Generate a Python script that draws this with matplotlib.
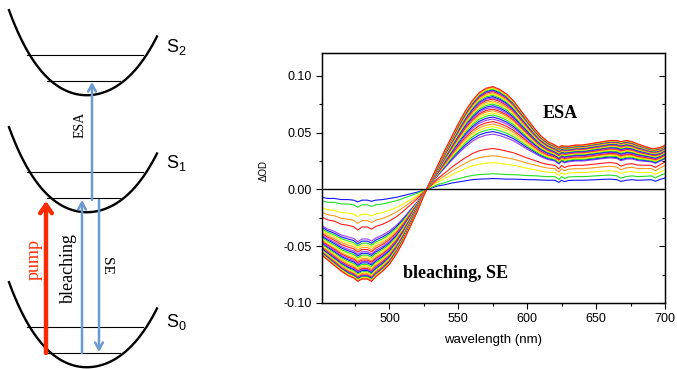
import matplotlib
matplotlib.use('Agg')
import matplotlib.pyplot as plt
import numpy as np
from matplotlib.ticker import MultipleLocator, FormatStrFormatter

plt.rcParams['font.family'] = ['Liberation Sans', 'DejaVu Sans']
plt.rcParams['mathtext.default'] = 'regular'

# ---- transient absorption data ----
wl = [451, 455, 460, 465, 470, 474, 477, 480, 484, 487, 490, 495, 500, 505, 510,
      515, 520, 524, 527, 530, 535, 540, 545, 550, 555, 560, 565, 570, 575, 580,
      585, 590, 595, 600, 605, 610, 615, 620, 623, 625, 627, 630, 635, 640, 645,
      650, 655, 660, 665, 668, 672, 676, 680, 685, 690, 693, 697, 700]

# strongest (latest) spectrum
late = [-0.058, -0.062, -0.067, -0.072, -0.076, -0.078, -0.081, -0.079, -0.079, -0.081,
        -0.077, -0.072, -0.066, -0.057, -0.046, -0.033, -0.020, -0.008, 0.000, 0.008,
        0.021, 0.034, 0.046, 0.058, 0.069, 0.078, 0.085, 0.089, 0.0905, 0.088,
        0.084, 0.078, 0.070, 0.062, 0.054, 0.047, 0.042, 0.039, 0.037, 0.0385,
        0.038, 0.038, 0.039, 0.039, 0.040, 0.041, 0.042, 0.043, 0.043, 0.042,
        0.043, 0.042, 0.040, 0.038, 0.036, 0.036, 0.037, 0.039]

# weakest (earliest) spectrum
early = [-0.007, -0.008, -0.008, -0.009, -0.009, -0.0095, -0.011, -0.0095, -0.0095, -0.0105,
         -0.0095, -0.009, -0.008, -0.007, -0.0055, -0.004, -0.0025, -0.001, 0.000, 0.001,
         0.003, 0.004, 0.0055, 0.0065, 0.0075, 0.0085, 0.009, 0.0092, 0.0095, 0.0093,
         0.009, 0.009, 0.0088, 0.0085, 0.0085, 0.0082, 0.008, 0.008, 0.0062, 0.008,
         0.0068, 0.0078, 0.008, 0.008, 0.0082, 0.0085, 0.0088, 0.009, 0.0085, 0.007,
         0.008, 0.0085, 0.008, 0.0082, 0.0085, 0.0072, 0.009, 0.010]

# weight of late / early spectrum in each trace (weakest -> strongest)
w_late = [0.0, 0.01, 0.137, 0.181, 0.245,
          0.43, 0.46, 0.49, 0.52, 0.55, 0.58, 0.61, 0.635, 0.66, 0.685,
          0.71, 0.73, 0.75, 0.77, 0.79, 0.81, 0.83, 0.85, 0.865, 0.88,
          0.895, 0.91, 0.925, 0.94, 0.95, 0.96, 0.97, 0.98, 0.99, 1.0]
w_early = [1.0, 1.35, 1.17, 1.39, 1.45,
           1.02, 0.97, 0.91, 0.86, 0.81, 0.75, 0.70, 0.65, 0.61, 0.56,
           0.52, 0.48, 0.45, 0.41, 0.38, 0.34, 0.30, 0.27, 0.24, 0.21,
           0.19, 0.16, 0.13, 0.11, 0.09, 0.07, 0.05, 0.04, 0.02, 0.0]

colors = ['#1414ff', '#22dd22', '#f5f500', '#ff9a1a', '#ff1a1a', '#9a3cff']

# ---- energy level diagram (pixel coords) ----
well_x = [9, 20, 33, 50, 67, 90, 110, 133, 147, 157]
well_y = [10, 37, 60, 80, 91, 95, 90, 73, 53, 37]
offsets = [0, 117, 272]
blue = '#6b9bd2'

fig = plt.figure(figsize=(6.77, 3.69), dpi=100)
diag = fig.add_axes([0, 0, 1, 1])
diag.set_xlim(0, 677)
diag.set_ylim(369, 0)
diag.axis('off')

coef = np.polyfit(well_x, well_y, 4)
xx = np.linspace(well_x[0], well_x[-1], 200)
for off in offsets:
    diag.plot(xx, np.polyval(coef, xx) + off, color='black', lw=1.7)
    diag.plot([27, 143], [55 + off, 55 + off], color='black', lw=0.8)
    diag.plot([47, 120], [81 + off, 81 + off], color='black', lw=0.8)

diag.text(166, 47, r'S$_2$', fontsize=13, va='center')
diag.text(166, 163, r'S$_1$', fontsize=13, va='center')
diag.text(166, 322, r'S$_0$', fontsize=13, va='center')

diag.annotate('', xy=(46, 201), xytext=(46, 353),
              arrowprops=dict(arrowstyle='->,head_length=0.6,head_width=0.42',
                              color='#ff2a00', lw=3.2, shrinkA=0, shrinkB=0))
diag.annotate('', xy=(82, 200), xytext=(82, 353),
              arrowprops=dict(arrowstyle='->,head_length=0.5,head_width=0.28',
                              color=blue, lw=1.8, shrinkA=0, shrinkB=0))
diag.annotate('', xy=(92, 82), xytext=(92, 200),
              arrowprops=dict(arrowstyle='->,head_length=0.5,head_width=0.28',
                              color=blue, lw=1.8, shrinkA=0, shrinkB=0))
diag.annotate('', xy=(99, 352), xytext=(99, 200),
              arrowprops=dict(arrowstyle='->,head_length=0.5,head_width=0.28',
                              color=blue, lw=1.8, shrinkA=0, shrinkB=0))

serif = 'Liberation Serif'
diag.text(34, 260, 'pump', color='#ff2a00', rotation=90, fontsize=13,
          family=serif, ha='center', va='center')
diag.text(68, 268, 'bleaching', rotation=90, fontsize=13,
          family=serif, ha='center', va='center')
diag.text(107, 266, 'SE', rotation=-90, fontsize=11,
          family=serif, ha='center', va='center')
diag.text(80, 125, 'ESA', rotation=90, fontsize=10,
          family=serif, ha='center', va='center')

# ---- spectra plot ----
ax = fig.add_axes([0.4756, 0.1789, 0.5067, 0.6775])
late_a = np.array(late)
early_a = np.array(early)
for i in range(len(w_late)):
    trace = w_late[i] * late_a + w_early[i] * early_a
    ax.plot(wl, trace, color=colors[i % len(colors)], lw=0.8)

ax.axhline(0, color='black', lw=1.0, zorder=5)
ax.set_xlim(451, 700)
ax.set_ylim(-0.10, 0.12)
ax.xaxis.set_major_locator(MultipleLocator(50))
ax.xaxis.set_minor_locator(MultipleLocator(25))
ax.yaxis.set_major_locator(MultipleLocator(0.05))
ax.yaxis.set_minor_locator(MultipleLocator(0.025))
ax.yaxis.set_major_formatter(FormatStrFormatter('%.2f'))
ax.tick_params(which='both', direction='out', labelsize=9, width=0.8)
ax.tick_params(which='major', length=4)
ax.tick_params(which='minor', length=2.5)
for sp in ax.spines.values():
    sp.set_linewidth(1.0)

# right side ticks point inward
ax_r = ax.twinx()
ax_r.set_ylim(ax.get_ylim())
ax_r.yaxis.set_major_locator(MultipleLocator(0.05))
ax_r.yaxis.set_minor_locator(MultipleLocator(0.025))
ax_r.tick_params(which='both', direction='in', labelright=False, width=0.8)
ax_r.tick_params(which='major', length=4)
ax_r.tick_params(which='minor', length=2.5)

ax.set_xlabel('wavelength (nm)', fontsize=9.5, labelpad=6)
ax.set_ylabel('ΔOD', fontsize=7)
ax.yaxis.set_label_coords(-0.155, 0.53)

ax.text(624, 0.067, 'ESA', fontsize=13, fontweight='bold', family=serif,
        ha='center', va='center')
ax.text(548, -0.074, 'bleaching, SE', fontsize=13, fontweight='bold',
        family=serif, ha='center', va='center')

fig.savefig('out.png', dpi=100)
